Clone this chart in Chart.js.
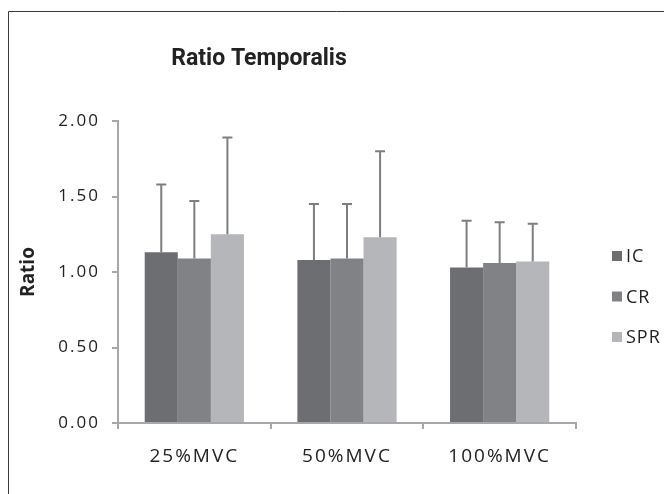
<!DOCTYPE html>
<html>
<head>
<meta charset="utf-8">
<script src="https://cdn.jsdelivr.net/npm/chart.js@4.4.0/dist/chart.umd.min.js"></script>
<style>
  html, body { margin: 0; padding: 0; background: #fff; }
  #wrap { position: relative; width: 664px; height: 494px; }
</style>
</head>
<body>
<div id="wrap"><canvas id="c" width="664" height="494"></canvas></div>
<script>
const categories = ["25%MVC", "50%MVC", "100%MVC"];
const seriesNames = ["IC", "CR", "SPR"];
const icMean  = [1.13, 1.08, 1.03];
const crMean  = [1.09, 1.09, 1.06];
const sprMean = [1.25, 1.23, 1.07];
const icSD  = [0.45, 0.37, 0.31];
const crSD  = [0.38, 0.36, 0.27];
const sprSD = [0.64, 0.57, 0.25];
const yTicks = [0, 0.5, 1.0, 1.5, 2.0];

const colors = ["#6d6e71", "#818285", "#b5b6b9"];
const FONT = "'Open Sans', 'Noto Sans', sans-serif";
const TITLE_FONT = "Roboto, 'Open Sans', sans-serif";

const errorBars = {
  id: 'errorBars',
  afterDatasetsDraw(chart) {
    const ctx = chart.ctx;
    const y = chart.scales.y;
    ctx.save();
    ctx.strokeStyle = '#7d7e81';
    ctx.lineWidth = 2;
    chart.data.datasets.forEach((ds, i) => {
      const meta = chart.getDatasetMeta(i);
      meta.data.forEach((bar, j) => {
        const top = y.getPixelForValue(ds.data[j] + ds.sd[j]);
        const base = y.getPixelForValue(ds.data[j]);
        ctx.beginPath();
        ctx.moveTo(bar.x, base);
        ctx.lineTo(bar.x, top);
        ctx.moveTo(bar.x - 5, top);
        ctx.lineTo(bar.x + 5, top);
        ctx.stroke();
      });
    });
    ctx.restore();
  }
};

const layoutTweaks = {
  id: 'layoutTweaks',
  afterLayout(chart) {
    const tb = chart.titleBlock;
    if (tb) { tb.left = 0; tb.right = 518; tb.width = 518; }
    const spacing = { x: '2px', y: '2px' };
    ['x', 'y'].forEach(k => {
      const s = chart.scales[k];
      if (s && !s._spaced) {
        const orig = s.drawLabels.bind(s);
        s.drawLabels = function (area) {
          const c = this.ctx;
          c.save();
          c.letterSpacing = spacing[k];
          orig(area);
          c.restore();
        };
        s._spaced = true;
      }
    });
  }
};

const frameAndLegend = {
  id: 'frameAndLegend',
  beforeDraw(chart) {
    const ctx = chart.ctx;
    ctx.save();
    ctx.fillStyle = '#fff';
    ctx.fillRect(0, 0, chart.width, chart.height);
    ctx.strokeStyle = '#3a3a3a';
    ctx.lineWidth = 1;
    ctx.beginPath();
    ctx.moveTo(8.5, 494);
    ctx.lineTo(8.5, 11.5);
    ctx.lineTo(664, 11.5);
    ctx.stroke();
    ctx.restore();
  },
  afterDraw(chart) {
    const ctx = chart.ctx;
    ctx.save();
    ctx.font = "18px " + FONT;
    ctx.letterSpacing = '1px';
    ctx.textBaseline = 'middle';
    ctx.textAlign = 'left';
    chart.data.datasets.forEach((ds, i) => {
      const cy = 256 + i * 40.5;
      ctx.fillStyle = ds.backgroundColor;
      ctx.fillRect(612, cy - 5, 10, 10);
      ctx.fillStyle = '#222';
      ctx.fillText(ds.label, 626, cy + 1);
    });
    ctx.restore();
  }
};

new Chart(document.getElementById('c'), {
  type: 'bar',
  data: {
    labels: categories,
    datasets: [
      { label: seriesNames[0], data: icMean, sd: icSD, backgroundColor: colors[0] },
      { label: seriesNames[1], data: crMean, sd: crSD, backgroundColor: colors[1] },
      { label: seriesNames[2], data: sprMean, sd: sprSD, backgroundColor: colors[2] }
    ]
  },
  options: {
    responsive: false,
    animation: false,
    devicePixelRatio: 1,
    layout: { padding: { left: 0, right: 88, top: 0, bottom: 0 } },
    datasets: { bar: { categoryPercentage: 0.65, barPercentage: 1.0, borderWidth: 0 } },
    plugins: {
      legend: { display: false },
      tooltip: { enabled: false },
      title: {
        display: true,
        text: 'Ratio Temporalis',
        color: '#222',
        font: { family: TITLE_FONT, size: 23, weight: 'bold', lineHeight: 1.2 },
        padding: { top: 45, bottom: 48.4 }
      }
    },
    scales: {
      x: {
        grid: { drawOnChartArea: false, color: '#a6a7aa', tickLength: 6, lineWidth: 2 },
        border: { color: '#a6a7aa', width: 2 },
        ticks: { color: '#222', font: { family: FONT, size: 19 }, padding: 16 },
        afterFit(s) { s.height = 71; }
      },
      y: {
        min: 0, max: 2,
        afterBuildTicks(s) { s.ticks = yTicks.map(v => ({ value: v })); },
        grid: { drawOnChartArea: false, color: '#a6a7aa', tickLength: 6, lineWidth: 2 },
        border: { color: '#a6a7aa', width: 2 },
        ticks: { color: '#222', font: { family: FONT, size: 17 }, padding: 12,
                 callback: v => Number(v).toFixed(2) },
        title: { display: true, text: 'Ratio', color: '#222',
                 font: { family: FONT, size: 19, weight: 'bold', lineHeight: 1.2 },
                 padding: { top: 17, bottom: 0 } },
        afterFit(s) { s.width = 118; }
      }
    }
  },
  plugins: [layoutTweaks, errorBars, frameAndLegend]
});
</script>
</body>
</html>
